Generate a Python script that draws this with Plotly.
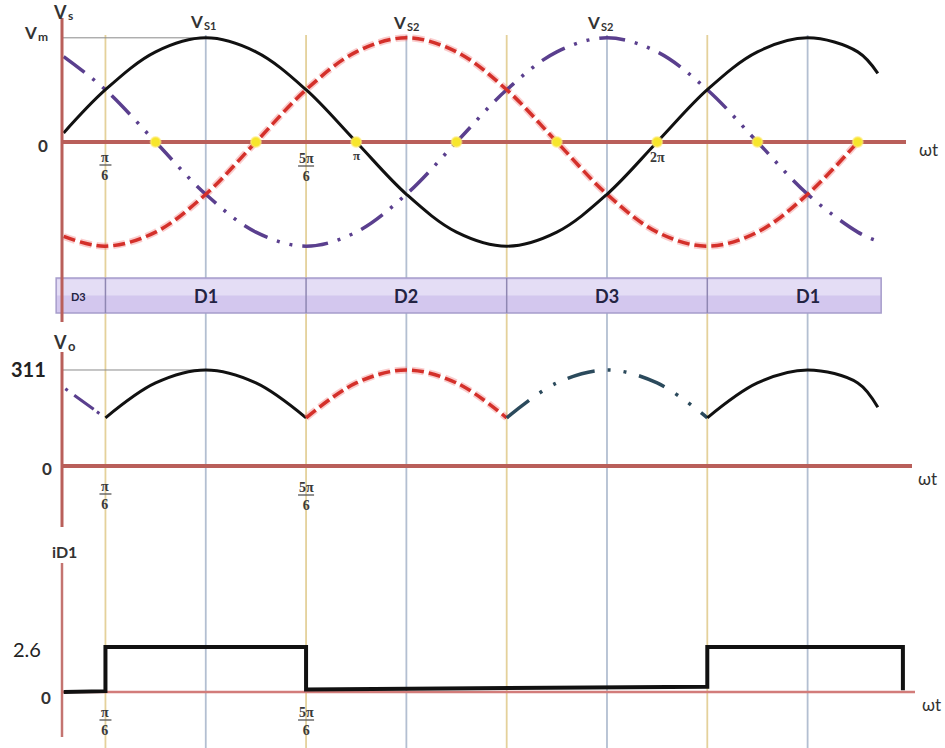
import plotly.graph_objects as go

W, H = 945, 748

# ---- data -------------------------------------------------------------
# supply phase voltages (V), sampled every 30 degrees of wt
angle_deg = [5, 30, 60, 90, 120, 150, 180, 210, 240, 270, 300, 330, 360, 390, 420, 450, 480, 492]
vs1 = [27, 156, 269, 311, 269, 156, 0, -156, -269, -311, -269, -156, 0, 156, 269, 311, 269, 205]
vs2_deg = [5, 30, 60, 90, 120, 150, 180, 210, 240, 270, 300, 330, 360, 390, 420, 450, 480]
vs2 = [-282, -311, -269, -156, 0, 156, 269, 311, 269, 156, 0, -156, -269, -311, -269, -156, 0]
vs3 = [255, 156, 0, -156, -269, -311, -269, -156, 0, 156, 269, 311, 269, 156, 0, -156, -269, -296]
zero_cross_deg = [60, 120, 180, 240, 300, 360, 420, 480]
vm = 311

# output voltage, one segment per conducting diode
vo_d3a_deg = [6, 30]
vo_d3a = [250, 156]
vo_d1a_deg = [30, 60, 90, 120, 150]
vo_d1a = [156, 269, 311, 269, 156]
vo_d2_deg = [150, 180, 210, 240, 270]
vo_d2 = [156, 269, 311, 269, 156]
vo_d3b_deg = [270, 300, 330, 360, 390]
vo_d3b = [156, 269, 311, 269, 156]
vo_d1b_deg = [390, 420, 450, 480, 492]
vo_d1b = [156, 269, 311, 269, 190]

# diode D1 current (A)
id1_deg = [5, 30, 30, 150, 150, 390, 390, 507, 507]
id1 = [0, 0.05, 2.6, 2.6, 0.15, 0.3, 2.6, 2.6, 0.1]
id1_on = 2.6

# conduction intervals
band_edges_deg = [0.5, 30, 150, 270, 390, 494]
band_labels = ["D3", "D1", "D2", "D3", "D1"]
band_label_deg = [14, 90, 210, 330, 450]
grid_deg = [30, 90, 150, 210, 270, 330, 390, 450]

# ---- scales -----------------------------------------------------------
X0_PX, PX_PER_DEG = 55.3, 1.6718
x_range = [-X0_PX / PX_PER_DEG, (W - X0_PX) / PX_PER_DEG]


def y_range(zero_px, px_per_unit):
    return [-(H - zero_px) / px_per_unit, zero_px / px_per_unit]


def xd(px):
    return (px - X0_PX) / PX_PER_DEG


def pp(x, y):
    return x / W, 1 - y / H


AXIS_RED = "#b95f5a"
BLACK = "#111111"
RED = "#d4302a"
PURPLE = "#5a3f8e"
TEAL = "#2b4a5c"
DDOT = "26px,10px,3px,10px,3px,10px"

fig = go.Figure()

# Vs panel
fig.add_trace(go.Scatter(x=vs2_deg, y=vs2, yaxis="y", mode="lines",
                         line=dict(color="rgba(240,110,110,0.35)", width=7, dash="12px,5px", shape="spline")))
fig.add_trace(go.Scatter(x=angle_deg, y=vs3, yaxis="y", mode="lines",
                         line=dict(color=PURPLE, width=3.5, dash=DDOT, shape="spline")))
fig.add_trace(go.Scatter(x=vs2_deg, y=vs2, yaxis="y", mode="lines",
                         line=dict(color=RED, width=3.5, dash="12px,5px", shape="spline")))
fig.add_trace(go.Scatter(x=angle_deg, y=vs1, yaxis="y", mode="lines",
                         line=dict(color=BLACK, width=3, shape="spline")))
fig.add_trace(go.Scatter(x=zero_cross_deg, y=[0] * len(zero_cross_deg), yaxis="y", mode="markers",
                         marker=dict(color="#f7e62c", size=10,
                                     line=dict(color="rgba(255,235,120,0.6)", width=2))))

# Vo panel
fig.add_trace(go.Scatter(x=vo_d3a_deg, y=vo_d3a, yaxis="y2", mode="lines",
                         line=dict(color=PURPLE, width=3, dash="3px,8px,24px,4px")))
fig.add_trace(go.Scatter(x=vo_d1a_deg, y=vo_d1a, yaxis="y2", mode="lines",
                         line=dict(color=BLACK, width=3, shape="spline")))
fig.add_trace(go.Scatter(x=vo_d2_deg, y=vo_d2, yaxis="y2", mode="lines",
                         line=dict(color="rgba(240,110,110,0.35)", width=7, dash="12px,5px", shape="spline")))
fig.add_trace(go.Scatter(x=vo_d2_deg, y=vo_d2, yaxis="y2", mode="lines",
                         line=dict(color=RED, width=3.5, dash="12px,5px", shape="spline")))
fig.add_trace(go.Scatter(x=vo_d3b_deg, y=vo_d3b, yaxis="y2", mode="lines",
                         line=dict(color=TEAL, width=3.5, dash="28px,13px,3px,13px,3px,13px", shape="spline")))
fig.add_trace(go.Scatter(x=vo_d1b_deg, y=vo_d1b, yaxis="y2", mode="lines",
                         line=dict(color=BLACK, width=3, shape="spline")))

# iD1 panel
fig.add_trace(go.Scatter(x=id1_deg, y=id1, yaxis="y3", mode="lines",
                         line=dict(color=BLACK, width=4)))

# ---- decorations ------------------------------------------------------
shapes = []
for i, g in enumerate(grid_deg):
    col = "#e4d19b" if i % 2 == 0 else "#b3bfd1"
    shapes.append(dict(type="line", xref="x", yref="paper", x0=g, x1=g,
                       y0=0, y1=1 - 35 / H, line=dict(color=col, width=1.8), layer="below"))

# conduction band
b_top, b_bot = 1 - 278 / H, 1 - 313 / H
shapes.append(dict(type="rect", xref="x", yref="paper", x0=band_edges_deg[0], x1=band_edges_deg[-1],
                   y0=b_bot, y1=b_top, fillcolor="#d3c7ee", line=dict(color="#a79dcb", width=1.5),
                   layer="below"))
shapes.append(dict(type="rect", xref="x", yref="paper", x0=band_edges_deg[0] + 0.6, x1=band_edges_deg[-1] - 0.6,
                   y0=b_bot + (b_top - b_bot) * 0.5, y1=b_top - 0.002, fillcolor="rgba(255,255,255,0.4)",
                   line=dict(width=0), layer="below"))
for e in band_edges_deg[1:-1]:
    shapes.append(dict(type="line", xref="x", yref="paper", x0=e, x1=e, y0=b_bot, y1=b_top,
                       line=dict(color="#8f87b2", width=1.5), layer="below"))

# axes lines
ax_x = xd(62)
shapes += [
    dict(type="line", xref="x", yref="paper", x0=ax_x, x1=ax_x, y0=1 - 322 / H, y1=1 - 18 / H,
         line=dict(color=AXIS_RED, width=3)),
    dict(type="line", xref="x", yref="y", x0=ax_x, x1=xd(906), y0=0, y1=0,
         line=dict(color=AXIS_RED, width=4), layer="below"),
    dict(type="line", xref="x", yref="paper", x0=ax_x, x1=ax_x, y0=1 - 527 / H, y1=1 - 352 / H,
         line=dict(color=AXIS_RED, width=3)),
    dict(type="line", xref="x", yref="y2", x0=ax_x, x1=xd(912), y0=0, y1=0,
         line=dict(color=AXIS_RED, width=4), layer="below"),
    dict(type="line", xref="x", yref="paper", x0=ax_x, x1=ax_x, y0=1 - 737 / H, y1=1 - 563 / H,
         line=dict(color="#c47470", width=2.5)),
    dict(type="line", xref="x", yref="y3", x0=ax_x, x1=xd(915), y0=0, y1=0,
         line=dict(color="#d27c7a", width=2.5), layer="below"),
    # peak reference lines
    dict(type="line", xref="x", yref="y", x0=ax_x, x1=90, y0=vm, y1=vm,
         line=dict(color="#8a8a8a", width=1), layer="below"),
    dict(type="line", xref="x", yref="y2", x0=ax_x, x1=90, y0=vm, y1=vm,
         line=dict(color="#8a8a8a", width=1), layer="below"),
]

ann = []
SANS = "Lato"
SERIF = "Liberation Serif"


def label(x, y, text, size=18, color="#333333", family=SANS, ref="paper", anchor="center"):
    if ref == "paper":
        px_, py_ = pp(x, y)
        xr = "paper"
    else:
        px_, py_ = x, 1 - y / H
        xr = "x"
    ann.append(dict(x=px_, y=py_, xref=xr, yref="paper", text=text, showarrow=False,
                    font=dict(size=size, color=color, family=family), xanchor=anchor, yanchor="middle"))


def sub_label(split_x, y, main, sub, size=17, sub_size=11):
    # main letter ends where its subscript starts
    label(split_x + 1, y, "<b>%s</b>" % main, size=size, anchor="right")
    label(split_x - 2, y + 4, "<b>%s</b>" % sub, size=sub_size, anchor="left")


def fraction(deg, num, den, y_mid):
    label(deg, y_mid, "<b>%s</b><br><b>%s</b>" % (num, den), size=14, color="#3a3a3a",
          family=SERIF, ref="x")
    yb = 1 - (y_mid - 1) / H
    half = 6 if len(num) == 1 else 8
    shapes.append(dict(type="line", xref="x", yref="paper", x0=deg - half / PX_PER_DEG,
                       x1=deg + half / PX_PER_DEG, y0=yb, y1=yb, line=dict(color="#555555", width=1.3)))


# Vs panel text
sub_label(68, 12, "V", "s", size=18, sub_size=12)
sub_label(38, 33, "V", "m", size=17, sub_size=12)
label(43, 145, "<b>0</b>", size=17)
sub_label(204, 21, "V", "S1")
sub_label(407, 22, "V", "S2")
sub_label(601, 22, "V", "S2")
label(928, 149, "ωt", size=17, color="#333333")
fraction(30, "π", "6", 166)
fraction(150, "5π", "6", 167)
label(180, 155, "<b>π</b>", size=13, color="#3a3a3a", family=SERIF, ref="x")
label(360, 157, "<b>2π</b>", size=14, color="#3a3a3a", family=SERIF, ref="x")

# conduction band labels
for d, t in zip(band_label_deg, band_labels):
    first = d == band_label_deg[0]
    label(d, 296, "<b>%s</b>" % t, size=11 if first else 18, color="#232342", ref="x")

# Vo panel text
sub_label(68, 342, "V", "o", size=18, sub_size=13)
label(28, 369, "<b>%d</b>" % vm, size=20, color="#222222")
label(47, 469, "<b>0</b>", size=17)
label(927, 478, "ωt", size=17, color="#333333")
fraction(30, "π", "6", 495)
fraction(150, "5π", "6", 496)

# iD1 panel text
label(64, 551, "<b>iD1</b>", size=16)
label(27, 649, "%.1f" % id1_on, size=20, color="#222222")
label(46, 697, "<b>0</b>", size=17)
label(931, 704, "ωt", size=17, color="#333333")
fraction(30, "π", "6", 721)
fraction(150, "5π", "6", 721)

fig.update_layout(
    width=W, height=H, margin=dict(l=0, r=0, t=0, b=0),
    paper_bgcolor="white", plot_bgcolor="white", showlegend=False,
    xaxis=dict(range=x_range, visible=False),
    yaxis=dict(range=y_range(142, 0.335), visible=False),
    yaxis2=dict(range=y_range(466, 0.3087), visible=False, overlaying="y"),
    yaxis3=dict(range=y_range(692, 17.3), visible=False, overlaying="y"),
    shapes=shapes, annotations=ann,
)

fig.write_html("out.html")
